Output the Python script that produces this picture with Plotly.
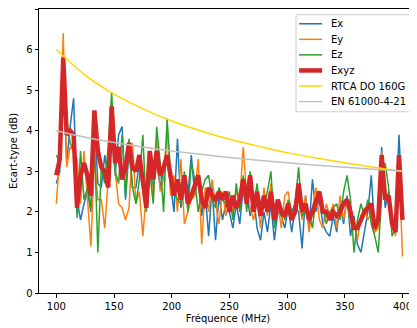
import plotly.graph_objects as go

freq = [100 + 3 * i for i in range(101)]

ex = [2.7, 3.0, 5.4, 3.2, 4.1, 4.8, 2.3, 1.8, 2.2, 2.5,
      2.0, 4.3, 2.7, 2.6, 3.4, 2.8, 4.3, 2.9, 3.9, 4.1,
      2.3, 3.5, 2.6, 2.6, 3.2, 2.9, 2.2, 3.1, 2.6, 3.3,
      2.6, 3.0, 3.3, 2.6, 2.0, 3.8, 2.1, 2.6, 2.4, 3.4,
      2.4, 2.9, 1.9, 2.5, 1.4, 2.6, 1.3, 2.4, 1.8, 2.2,
      2.0, 1.6, 2.2, 1.7, 2.6, 2.4, 1.9, 2.4, 1.6, 1.3,
      2.0, 1.5, 2.2, 1.3, 2.0, 1.9, 1.6, 2.1, 1.5, 2.1,
      2.0, 1.1, 2.4, 1.6, 2.8, 2.0, 2.3, 1.7, 1.5, 1.4,
      1.9, 1.5, 2.2, 1.7, 2.4, 1.4, 1.9, 1.2, 1.0, 1.5,
      2.0, 2.9, 1.5, 1.9, 3.6, 2.1, 2.5, 1.6, 1.9, 3.9,
      2.0]

ey = [2.2, 3.4, 6.4, 3.1, 3.6, 3.5, 3.3, 2.2, 3.5, 2.4,
      1.15, 3.3, 2.3, 2.3, 1.6, 2.8, 3.9, 3.0, 2.2, 2.1,
      1.8, 2.1, 3.7, 2.2, 2.5, 1.4, 2.5, 3.2, 2.3, 3.8,
      2.5, 2.8, 4.1, 2.4, 2.9, 2.0, 3.3, 1.7, 2.0, 2.3,
      2.4, 3.3, 1.2, 2.6, 2.0, 2.8, 2.2, 1.7, 2.5, 1.9,
      2.3, 2.0, 2.5, 2.3, 3.6, 2.4, 2.1, 1.8, 2.3, 1.6,
      2.6, 1.9, 2.7, 1.9, 2.2, 1.6, 2.4, 2.5, 1.9, 2.1,
      2.3, 1.8, 2.4, 1.5, 2.0, 2.6, 1.8, 1.6, 2.2, 1.9,
      2.2, 1.6, 2.4, 1.8, 2.3, 1.7, 1.8, 1.3, 1.9, 2.1,
      1.8, 2.0, 1.5, 1.6, 3.5, 2.4, 2.2, 1.9, 1.4, 3.3,
      0.9]

ez = [3.4, 3.2, 4.8, 4.3, 3.7, 3.5, 1.85, 3.5, 2.3, 2.6,
      2.1, 3.8, 1.0, 3.1, 2.7, 3.6, 4.95, 3.0, 2.7, 3.9,
      2.4, 3.8, 2.6, 2.2, 2.8, 3.9, 2.0, 3.0, 2.2, 4.1,
      3.2, 2.0, 4.3, 3.0, 2.5, 2.3, 2.2, 3.0, 2.0, 3.2,
      2.8, 2.0, 2.5, 2.8, 2.9, 2.3, 2.1, 2.6, 2.3, 2.2,
      2.5, 1.8, 2.7, 2.0, 2.9, 2.0, 3.0, 2.1, 2.7, 1.9,
      2.2, 2.5, 3.0, 1.6, 2.2, 2.1, 1.8, 2.3, 2.0, 2.2,
      3.1, 1.9, 2.0, 2.0, 1.6, 2.3, 2.4, 2.1, 1.7, 2.0,
      2.1, 2.2, 1.8, 2.5, 2.9, 2.3, 1.0, 1.8, 2.2, 1.9,
      2.3, 1.7, 1.4, 1.0, 2.4, 3.2, 2.6, 1.4, 1.6, 3.2,
      1.9]

exyz = [2.9, 3.3, 5.8, 3.9, 4.0, 3.9, 2.1, 2.9, 3.2, 2.9,
        2.4, 4.5, 3.5, 3.1, 3.0, 2.6, 4.6, 3.2, 3.6, 2.8,
        3.1, 3.7, 3.1, 3.0, 3.4, 2.7, 2.1, 3.5, 2.8, 3.5,
        2.9, 3.1, 3.4, 2.9, 2.4, 2.8, 2.3, 2.9, 2.2, 2.4,
        2.7, 2.9, 2.3, 2.1, 2.6, 2.4, 2.3, 2.5, 2.3, 2.5,
        2.0, 2.4, 2.1, 2.3, 2.8, 2.2, 2.9, 2.0, 2.5, 1.9,
        2.4, 2.0, 2.5, 1.8, 2.3, 2.0, 1.9, 2.2, 1.8, 2.0,
        2.7, 2.0, 2.2, 1.8, 2.0, 2.3, 2.5, 2.0, 2.0, 1.8,
        2.0, 1.9, 2.0, 2.2, 2.3, 2.0, 1.6, 1.6, 1.8, 2.0,
        2.1, 2.2, 1.6, 1.8, 3.4, 2.3, 2.4, 1.7, 1.5, 3.4,
        1.8]

lim_freq = [100, 125, 150, 175, 200, 225, 250, 275, 300, 325, 350, 375, 400]
rtca = [6.00, 5.37, 4.90, 4.54, 4.24, 4.00, 3.79, 3.62, 3.46, 3.33, 3.21, 3.10, 3.00]
en61000 = [4.00, 3.84, 3.71, 3.60, 3.50, 3.42, 3.34, 3.27, 3.21, 3.15, 3.10, 3.05, 3.00]

x_ticks = [100, 150, 200, 250, 300, 350, 400]
y_ticks = [0, 1, 2, 3, 4, 5, 6, 7]

fig = go.Figure()
fig.add_trace(go.Scatter(x=freq, y=ex, name="Ex", mode="lines",
                         line=dict(color="#1f77b4", width=1.5)))
fig.add_trace(go.Scatter(x=freq, y=ey, name="Ey", mode="lines",
                         line=dict(color="#ff7f0e", width=1.5)))
fig.add_trace(go.Scatter(x=freq, y=ez, name="Ez", mode="lines",
                         line=dict(color="#2ca02c", width=1.5)))
fig.add_trace(go.Scatter(x=freq, y=exyz, name="Exyz", mode="lines",
                         line=dict(color="#d62728", width=4.5)))
fig.add_trace(go.Scatter(x=lim_freq, y=rtca, name="RTCA DO 160G", mode="lines",
                         line=dict(color="#FFD700", width=1.5, shape="spline")))
fig.add_trace(go.Scatter(x=lim_freq, y=en61000, name="EN 61000-4-21", mode="lines",
                         line=dict(color="#C0C0C0", width=1.5, shape="spline")))

# Legend drawn in paper coordinates (matplotlib-style compact legend)
shapes = [dict(type="rect", xref="paper", yref="paper", x0=0.680, x1=0.993,
               y0=0.638, y1=0.980, line=dict(color="#cccccc", width=1),
               fillcolor="white", layer="above")]
annotations = []
for i, tr in enumerate(fig.data):
    yy = 0.948 - i * 0.0548
    shapes.append(dict(type="line", xref="paper", yref="paper", x0=0.688, x1=0.749,
                       y0=yy, y1=yy, layer="above",
                       line=dict(color=tr.line.color, width=tr.line.width)))
    annotations.append(dict(xref="paper", yref="paper", x=0.768, y=yy, text=tr.name,
                            showarrow=False, xanchor="left", yanchor="middle",
                            font=dict(family="DejaVu Sans", size=10, color="black")))

font = dict(family="DejaVu Sans", size=10, color="black")
# the page body adds 8px offset; compensate with figure size and margins
fig.update_layout(
    width=409, height=320,
    margin=dict(l=31, r=0, t=1, b=35, autoexpand=False),
    paper_bgcolor="white", plot_bgcolor="white",
    font=font,
    showlegend=False,
    shapes=shapes,
    annotations=annotations,
)
fig.update_xaxes(range=[85, 412.6], tickvals=x_ticks, ticktext=[str(v) for v in x_ticks],
                 showgrid=False, zeroline=False, showline=True, linecolor="black",
                 linewidth=1, mirror=True, ticks="outside", ticklen=3.5, tickcolor="black",
                 automargin=False,
                 title=dict(text="Fréquence (MHz)", font=font, standoff=4))
fig.update_yaxes(range=[0, 7], tickvals=y_ticks, ticktext=[str(v) for v in y_ticks],
                 showgrid=False, zeroline=False, showline=True, linecolor="black",
                 linewidth=1, ticks="outside", ticklen=3.5, tickcolor="black",
                 automargin=False,
                 title=dict(text="Ecart-type (dB)", font=font, standoff=6))

fig.write_html("out.html")
